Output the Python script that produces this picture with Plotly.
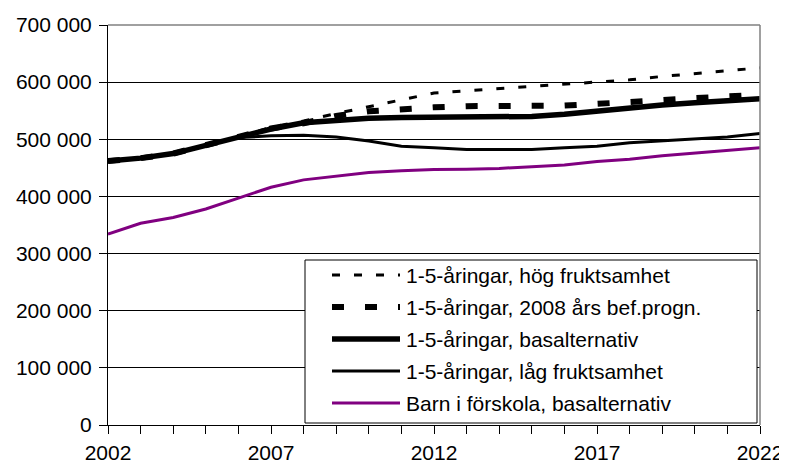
import plotly.graph_objects as go

# år
years = list(range(2002, 2023))

# serier (antal barn)
hog = [462000, 467000, 475000, 490000, 504000, 521000, 532000, 545000, 557000, 570000, 581000,
       585000, 589000, 593000, 596000, 600000, 604000, 610000, 615000, 619000, 625000]
progn = [462000, 467000, 475000, 490000, 504000, 519000, 528000, 541000, 549000, 553000, 556000,
         558000, 558000, 558000, 559000, 562000, 566000, 569000, 572000, 575000, 578000]
basal = [462000, 467000, 475000, 490000, 504000, 518000, 529000, 534000, 537000, 538000, 538000,
         538000, 538000, 540000, 544000, 550000, 555000, 560000, 564000, 568000, 571000]
lag = [462000, 467000, 475000, 490000, 503000, 506000, 507000, 504000, 497000, 488000, 485000,
       482000, 482000, 482000, 485000, 488000, 494000, 497000, 500000, 504000, 510000]
barn = [334000, 353000, 363000, 378000, 397000, 416000, 429000, 435000, 442000, 445000, 447000,
        447500, 449000, 452000, 455000, 461000, 465000, 471000, 476000, 481000, 485000]

names = ["1-5-åringar, hög fruktsamhet", "1-5-åringar, 2008 års bef.progn.",
         "1-5-åringar, basalternativ", "1-5-åringar, låg fruktsamhet",
         "Barn i förskola, basalternativ"]

x_ticks = [2002, 2007, 2012, 2017, 2022]
y_ticks = [0, 100000, 200000, 300000, 400000, 500000, 600000, 700000]
y_labels = ["0", "100 000", "200 000", "300 000", "400 000", "500 000", "600 000", "700 000"]

FONT = "Arial, Liberation Sans, sans-serif"
styles = [
    dict(color="black", width=3, dash="8px,14px"),
    dict(color="black", width=6, dash="12px,21px"),
    dict(color="black", width=5.5, dash="solid"),
    dict(color="black", width=3, dash="solid"),
    dict(color="#800080", width=3, dash="solid"),
]
series = [hog, progn, basal, lag, barn]

fig = go.Figure()
# rita de heldragna först, streckade överst
for i in [4, 3, 2, 1, 0]:
    fig.add_trace(go.Scatter(x=years, y=series[i], mode="lines", name=names[i],
                             line=styles[i], showlegend=False))

fig.update_xaxes(
    range=[2002, 2022], tickvals=x_ticks, ticks="outside", ticklen=8, tickcolor="black",
    showline=True, linecolor="black", linewidth=1, showgrid=False, zeroline=False,
    minor=dict(dtick=1, tick0=2002, ticks="outside", ticklen=8, tickcolor="black", showgrid=False),
    tickfont=dict(size=21, color="black", family=FONT), automargin=False,
    ticklabelstandoff=1,
)
fig.update_yaxes(
    range=[0, 700000], tickvals=y_ticks, ticktext=y_labels, ticks="outside", ticklen=8,
    tickcolor="black", showline=True, linecolor="black", linewidth=1,
    showgrid=True, gridcolor="black", gridwidth=1, zeroline=False,
    tickfont=dict(size=21, color="black", family=FONT), automargin=False,
    ticklabelstandoff=3,
)

# grå ram upptill och till höger
fig.add_shape(type="line", xref="paper", yref="paper", x0=0, x1=1, y0=1, y1=1,
              line=dict(color="#808080", width=1.5))
fig.add_shape(type="line", xref="paper", yref="paper", x0=1, x1=1, y0=0, y1=1,
              line=dict(color="#808080", width=1.5))

# egen teckenförklaring
W, H = 652, 400
def px(x): return x / W
def py(y): return 1 - y / H

fig.add_shape(type="rect", xref="paper", yref="paper", x0=px(197), x1=px(649),
              y0=py(398), y1=py(235), line=dict(color="black", width=1), fillcolor="white")
rows = [250, 282, 314, 346, 378]
for i, r in enumerate(rows):
    fig.add_shape(type="line", xref="paper", yref="paper", x0=px(224), x1=px(292),
                  y0=py(r), y1=py(r), line=styles[i])
    fig.add_annotation(x=px(296), y=py(r), xref="paper", yref="paper", text=names[i],
                       showarrow=False, xanchor="left", yanchor="middle",
                       font=dict(size=21, color="black", family=FONT))

# sidan har 8 px marginal i body, så figuren görs 8 px mindre åt båda håll
fig.update_layout(
    width=779, height=455,
    margin=dict(l=100, r=27, t=17, b=38),
    paper_bgcolor="white", plot_bgcolor="white",
    font=dict(family=FONT, color="black"),
    showlegend=False,
)
fig.write_html("out.html")
